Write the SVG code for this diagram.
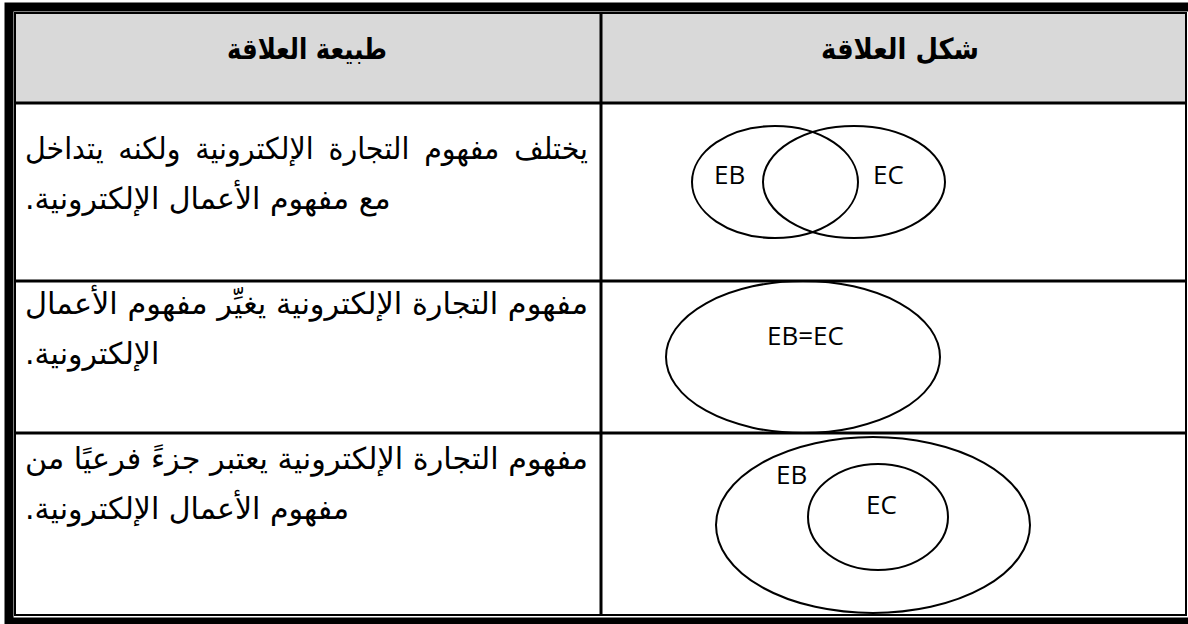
<svg xmlns="http://www.w3.org/2000/svg" width="1188" height="624" viewBox="0 0 1188 624">
<style>
.ar{font-family:"DejaVu Sans",sans-serif;font-size:30px;fill:#000;direction:rtl}
.l1{text-anchor:start}
.l2{text-anchor:end}
.hd{font-family:"DejaVu Sans",sans-serif;font-weight:bold;font-size:29px;fill:#000;direction:rtl;text-anchor:middle}
.lb{font-family:"Open Sans",sans-serif;font-size:26px;fill:#000}
.sh{fill:none;stroke:#000;stroke-width:2}
.grid{stroke:#000;stroke-width:3;fill:none}
</style>
<rect x="0" y="0" width="1188" height="624" fill="#fff"/>
<g id="frame">
<rect x="9" y="7" width="1190" height="615" fill="none" stroke="#000" stroke-width="9"/>
<rect x="15" y="13" width="1171" height="602" fill="none" stroke="#000" stroke-width="2"/>
</g>
<g id="header">
<rect x="16" y="14" width="1169" height="89" fill="#d9d9d9"/>
<text class="hd" x="307" y="59" textLength="160" lengthAdjust="spacingAndGlyphs">طبيعة العلاقة</text>
<text class="hd" x="900" y="59" textLength="158" lengthAdjust="spacingAndGlyphs">شكل  العلاقة</text>
</g>
<g id="grid">
<line class="grid" x1="15" y1="103" x2="1186" y2="103"/>
<line class="grid" x1="15" y1="281" x2="1186" y2="281"/>
<line class="grid" x1="15" y1="433" x2="1186" y2="433"/>
<line class="grid" x1="601" y1="13" x2="601" y2="615"/>
</g>
<g id="row1">
<text class="ar l1" x="588" y="159" word-spacing="6" textLength="563" lengthAdjust="spacingAndGlyphs">يختلف مفهوم التجارة الإلكترونية ولكنه يتداخل</text>
<text class="ar l2" x="25" y="209">مع مفهوم الأعمال الإلكترونية.</text>
<ellipse class="sh" cx="775" cy="182" rx="83" ry="56"/>
<ellipse class="sh" cx="854" cy="182" rx="91" ry="56"/>
<text class="lb" x="714" y="184">EB</text>
<text class="lb" x="873" y="184">EC</text>
</g>
<g id="row2">
<text class="ar l1" x="588" y="314" textLength="563" lengthAdjust="spacingAndGlyphs">مفهوم التجارة الإلكترونية يغيِّر مفهوم الأعمال</text>
<text class="ar l2" x="25" y="364">الإلكترونية.</text>
<ellipse class="sh" cx="803" cy="357" rx="137" ry="76"/>
<text class="lb" x="767" y="345">EB=EC</text>
</g>
<g id="row3">
<text class="ar l1" x="588" y="469" textLength="563" lengthAdjust="spacingAndGlyphs">مفهوم التجارة الإلكترونية يعتبر جزءً فرعيًا من</text>
<text class="ar l2" x="25" y="519">مفهوم الأعمال الإلكترونية.</text>
<ellipse class="sh" cx="873" cy="525" rx="157" ry="88"/>
<ellipse class="sh" cx="878" cy="517" rx="70" ry="53"/>
<text class="lb" x="776" y="484">EB</text>
<text class="lb" x="866" y="514">EC</text>
</g>
</svg>
